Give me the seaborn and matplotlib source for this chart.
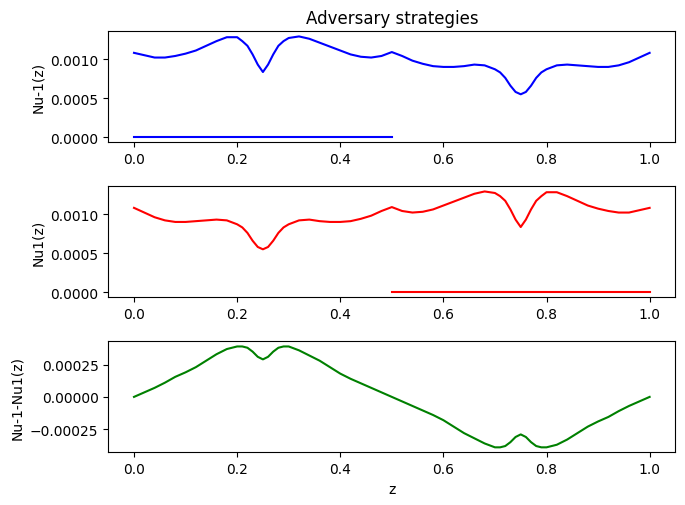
import matplotlib
matplotlib.use("Agg")
import matplotlib.pyplot as plt
import seaborn as sns

# z grid
z = [0.00, 0.02, 0.04, 0.06, 0.08, 0.10, 0.12, 0.14, 0.16, 0.18,
     0.20, 0.21, 0.22, 0.23, 0.24, 0.25, 0.26, 0.27, 0.28, 0.29, 0.30,
     0.32, 0.34, 0.36, 0.38, 0.40, 0.42, 0.44, 0.46, 0.48, 0.50,
     0.52, 0.54, 0.56, 0.58, 0.60, 0.62, 0.64, 0.66, 0.68,
     0.70, 0.71, 0.72, 0.73, 0.74, 0.75, 0.76, 0.77, 0.78, 0.79, 0.80,
     0.82, 0.84, 0.86, 0.88, 0.90, 0.92, 0.94, 0.96, 0.98, 1.00]

nu_m1 = [0.00108, 0.00105, 0.00102, 0.00102, 0.00104, 0.00107, 0.00111, 0.00117, 0.00123, 0.00128,
         0.00128, 0.00123, 0.00117, 0.00106, 0.00093, 0.000835, 0.00093, 0.00106, 0.00117, 0.00123, 0.00127,
         0.00129, 0.00126, 0.00121, 0.00116, 0.00111, 0.00106, 0.00103, 0.00102, 0.00104, 0.00109,
         0.00104, 0.00098, 0.00094, 0.00091, 0.00090, 0.00090, 0.00091, 0.00093, 0.00092,
         0.00087, 0.00083, 0.00076, 0.00066, 0.00058, 0.00055, 0.00058, 0.00066, 0.00076, 0.00083, 0.00087,
         0.00092, 0.00093, 0.00092, 0.00091, 0.00090, 0.00090, 0.00092, 0.00096, 0.00102, 0.00108]

nu_p1 = [0.00108, 0.00102, 0.00096, 0.00092, 0.00090, 0.00090, 0.00091, 0.00092, 0.00093, 0.00092,
         0.00087, 0.00083, 0.00076, 0.00066, 0.00058, 0.00055, 0.00058, 0.00066, 0.00076, 0.00083, 0.00087,
         0.00092, 0.00093, 0.00091, 0.00090, 0.00090, 0.00091, 0.00094, 0.00098, 0.00104, 0.00109,
         0.00104, 0.00102, 0.00103, 0.00106, 0.00111, 0.00116, 0.00121, 0.00126, 0.00129,
         0.00127, 0.00123, 0.00117, 0.00106, 0.00093, 0.000835, 0.00093, 0.00106, 0.00117, 0.00123, 0.00128,
         0.00128, 0.00123, 0.00117, 0.00111, 0.00107, 0.00104, 0.00102, 0.00102, 0.00105, 0.00108]

diff = [0.0, 0.000035, 0.00007, 0.00011, 0.000155, 0.00019, 0.00023, 0.00028, 0.00033, 0.00037,
        0.00039, 0.00039, 0.00038, 0.00035, 0.00031, 0.00029, 0.00031, 0.00035, 0.00038, 0.00039, 0.00039,
        0.00036, 0.00032, 0.00028, 0.00023, 0.00018, 0.00014, 0.000105, 0.00007, 0.000035, 0.0,
        -0.000035, -0.00007, -0.000105, -0.00014, -0.00018, -0.00023, -0.00028, -0.00032, -0.00036,
        -0.00039, -0.00039, -0.00038, -0.00035, -0.00031, -0.00029, -0.00031, -0.00035, -0.00038, -0.00039, -0.00039,
        -0.00037, -0.00033, -0.00028, -0.00023, -0.00019, -0.000155, -0.00011, -0.00007, -0.000035, 0.0]

# flat zero segments
z_left = [0.0, 0.5]
z_right = [0.5, 1.0]
zeros = [0.0, 0.0]

fig, axes = plt.subplots(3, 1, figsize=(6.85, 5.06), dpi=100)
fig.subplots_adjust(left=0.158, right=0.986, top=0.936, bottom=0.104, hspace=0.397)

sns.lineplot(x=z, y=nu_m1, color="b", ax=axes[0], estimator=None)
sns.lineplot(x=z_left, y=zeros, color="b", ax=axes[0], estimator=None)
axes[0].set_title("Adversary strategies")
axes[0].set_ylabel("Nu-1(z)")

sns.lineplot(x=z, y=nu_p1, color="r", ax=axes[1], estimator=None)
sns.lineplot(x=z_right, y=zeros, color="r", ax=axes[1], estimator=None)
axes[1].set_ylabel("Nu1(z)")

sns.lineplot(x=z, y=diff, color="g", ax=axes[2], estimator=None)
axes[2].set_ylabel("Nu-1-Nu1(z)")
axes[2].set_xlabel("z")

plt.savefig("out.png")
